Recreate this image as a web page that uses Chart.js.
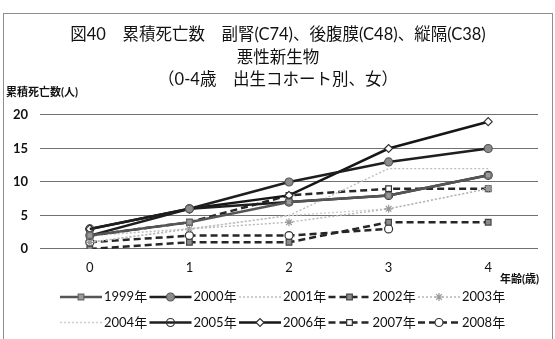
<!DOCTYPE html>
<html>
<head>
<meta charset="utf-8">
<script src="https://cdn.jsdelivr.net/npm/chart.js@4.4.0/dist/chart.umd.min.js"></script>
<style>
  html, body { margin: 0; background: #fff; }
  canvas { display: block; }
</style>
</head>
<body>
<canvas id="chart" width="555" height="339"></canvas>
<script>
// ── Data ───────────────────────────────────────────────────────────────────

const AGES = ['0', '1', '2', '3', '4'];
const Y_TICKS = [0, 5, 10, 15, 20];
const COHORTS = ['1999年', '2000年', '2001年', '2002年', '2003年',
                 '2004年', '2005年', '2006年', '2007年', '2008年'];

const C1999 = [2, 4, 7, 8, 11];
const C2000 = [2, 6, 10, 13, 15];
const C2001 = [2, 3, 5, 12, 12];
const C2002 = [0, 1, 1, 4, 4];
const C2003 = [1, 3, 4, 6, 9];
const C2004 = [1, 3, 5, 6, 9];
const C2005 = [3, 6, 7, 8, 11];
const C2006 = [3, 6, 8, 15, 19];
const C2007 = [2, 4, 8, 9, 9];
const C2008 = [1, 2, 2, 3, null];

const SERIES = [C1999, C2000, C2001, C2002, C2003, C2004, C2005, C2006, C2007, C2008];

const TITLE_LINES = [
  '図40　累積死亡数　副腎(C74)、後腹膜(C48)、縦隔(C38)',
  '悪性新生物',
  '（0-4歳　出生コホート別、女）',
];
const Y_TITLE = '累積死亡数(人)';
const X_TITLE = '年齢(歳)';

// ── Styles ─────────────────────────────────────────────────────────────────

const FONT = 'Lato, "Noto Sans CJK JP", sans-serif';
const DASH = [7, 4];
const DOT = [2, 2];

const STYLES = [
  { color: '#555',    width: 2.5, dash: [],   point: 'rect',    fill: '#9a9a9a', edge: '#666' },
  { color: '#1e1e1e', width: 2.5, dash: [],   point: 'circle',  fill: '#8c8c8c', edge: '#555' },
  { color: '#bdbdbd', width: 1.4, dash: DOT,  point: false },
  { color: '#262626', width: 2.5, dash: DASH, point: 'rect',    fill: '#8a8a8a', edge: '#444' },
  { color: '#b5b5b5', width: 1.4, dash: DOT,  point: 'star',    fill: '#aaa',    edge: '#999' },
  { color: '#cfcfcf', width: 1.4, dash: DOT,  point: false },
  { color: '#1e1e1e', width: 2.5, dash: [],   point: 'circle',  fill: 'rgba(255,255,255,0)', edge: '#333' },
  { color: '#161616', width: 2.5, dash: [],   point: 'rectRot', fill: '#fff',    edge: '#333' },
  { color: '#262626', width: 2.5, dash: DASH, point: 'rect',    fill: '#fff',    edge: '#333' },
  { color: '#262626', width: 2.5, dash: DASH, point: 'circle',  fill: '#fff',    edge: '#333' },
];

// ── Decorations: frame, titles, legend ─────────────────────────────────────

const decorations = {
  id: 'decorations',
  afterDraw(chart) {
    const ctx = chart.ctx;
    ctx.save();

    // outer frame
    ctx.strokeStyle = '#8f8f8f';
    ctx.lineWidth = 1;
    ctx.strokeRect(3.5, 13.5, 549, 340);

    // title block
    ctx.fillStyle = '#111';
    ctx.textAlign = 'center';
    ctx.textBaseline = 'middle';
    ctx.font = `16.5px ${FONT}`;
    TITLE_LINES.forEach((t, i) => ctx.fillText(t, 278, 35 + i * 22.5));

    // axis titles
    ctx.font = `bold 11px ${FONT}`;
    ctx.textAlign = 'left';
    ctx.fillText(Y_TITLE, 6, 92);
    ctx.fillText(X_TITLE, 500, 279);

    // legend, two rows of five
    ctx.font = `13px ${FONT}`;
    chart.data.datasets.forEach((ds, i) => {
      const col = i % 5, row = Math.floor(i / 5);
      const x0 = 60 + col * 89.5;
      const y = 297 + row * 25.5;
      const st = STYLES[i];

      ctx.strokeStyle = st.color;
      ctx.lineWidth = st.width;
      ctx.setLineDash(st.dash);
      ctx.beginPath();
      ctx.moveTo(x0, y);
      ctx.lineTo(x0 + 42, y);
      ctx.stroke();
      ctx.setLineDash([]);

      if (st.point) {
        ctx.fillStyle = st.fill;
        ctx.strokeStyle = st.edge;
        ctx.lineWidth = 1.2;
        Chart.helpers.drawPoint(ctx, { pointStyle: st.point, radius: 4, rotation: 0, borderWidth: 1.2 }, x0 + 21, y);
      }

      ctx.fillStyle = '#111';
      ctx.textAlign = 'left';
      ctx.fillText(ds.label, x0 + 44, y);
    });

    ctx.restore();
  },
};

// ── Chart ──────────────────────────────────────────────────────────────────

const datasets = SERIES.map((values, i) => {
  const st = STYLES[i];
  return {
    label: COHORTS[i],
    data: values,
    borderColor: st.color,
    borderWidth: st.width,
    borderDash: st.dash,
    tension: 0,
    pointStyle: st.point || 'circle',
    pointRadius: st.point ? 4 : 0,
    pointBackgroundColor: st.fill || st.color,
    pointBorderColor: st.edge || st.color,
    pointBorderWidth: 1.2,
  };
});

new Chart(document.getElementById('chart').getContext('2d'), {
  type: 'line',
  data: { labels: AGES, datasets },
  options: {
    responsive: false,
    animation: false,
    layout: { padding: { top: 115, left: 0, right: 17, bottom: 50 } },
    plugins: {
      legend: { display: false },
      title: { display: false },
      tooltip: { enabled: false },
    },
    scales: {
      x: {
        offset: true,
        grid: { display: false, drawTicks: false },
        border: { display: false },
        ticks: { color: '#111', padding: 11, font: { family: FONT, size: 13 } },
        afterFit: s => { s.height = 40; },
      },
      y: {
        min: 0, max: 20,
        afterBuildTicks: s => { s.ticks = Y_TICKS.map(v => ({ value: v })); },
        grid: { color: '#707070', lineWidth: 1.1, drawTicks: false },
        border: { display: false },
        ticks: { color: '#111', padding: 12, font: { family: FONT, size: 13, weight: 'bold' } },
        afterFit: s => { s.width = 40; },
      },
    },
  },
  plugins: [decorations],
});
</script>
</body>
</html>
